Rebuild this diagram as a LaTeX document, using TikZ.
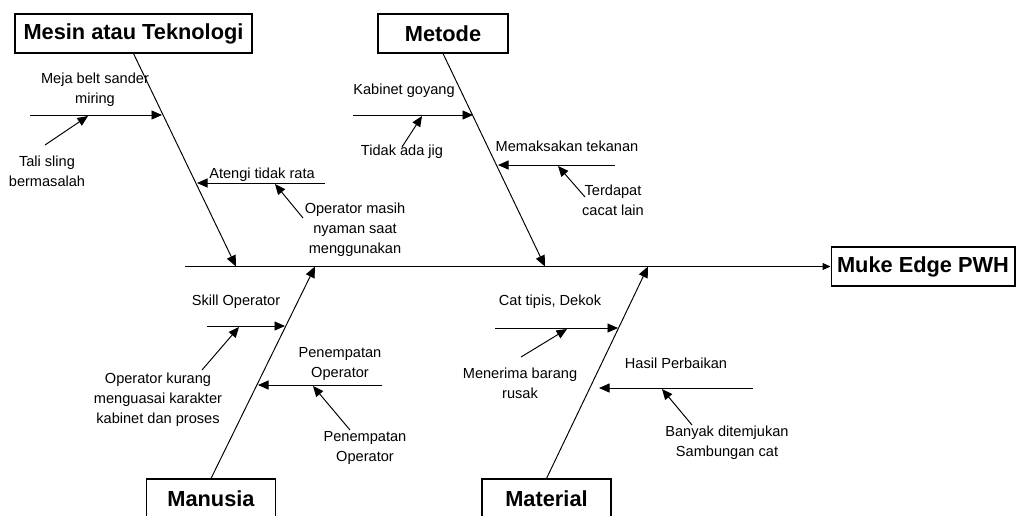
\documentclass[tikz,border=0pt]{standalone}
\usepackage{fontspec}
\setmainfont{Liberation Sans}
\usetikzlibrary{arrows.meta}

\tikzset{
    cat/.style={draw, line width=0.6pt, font=\fontsize{12.4}{14}\selectfont\bfseries,
        minimum height=0.78cm, inner sep=0pt},
    lbl/.style={font=\fontsize{8.3}{11.4}\selectfont, align=center, inner sep=0pt},
    spine/.style={line width=0.6pt, -{Triangle[length=1.6mm,width=1.4mm]}},
    bone/.style={line width=0.55pt, -{Triangle[length=2.2mm,width=1.9mm]}},
    twig/.style={line width=0.55pt, -{Triangle[length=2.1mm,width=1.8mm]}},
}

\begin{document}
\begin{tikzpicture}[x=0.02cm, y=-0.02cm]
    \useasboundingbox (0,0) rectangle (1016,515);
    % categories and effect
    \node[cat, minimum width=4.74cm] (mesin) at (133.5,33.5) {Mesin atau Teknologi};
    \node[cat, minimum width=2.6cm] (metode) at (443,33.5) {Metode};
    \node[cat, minimum width=2.58cm] (manusia) at (211,498.5) {Manusia};
    \node[cat, minimum width=2.58cm] (material) at (546.5,498.5) {Material};
    \node[cat, minimum width=3.68cm] (effect) at (923,266.5) {Muke Edge PWH};
    % spine and main bones
    \coordinate (tail) at (185,266.5);
    \draw[spine] (tail) -- (effect.west);
    \foreach \cat/\side/\x in {mesin/south/236,metode/south/545,manusia/north/315,material/north/648}{
        \coordinate (\cat J) at (\x,266.5);
        \draw[bone] (\cat.\side) -- (\cat J);
    }
    % causes (name/start/tip/height)
    \foreach \n/\xa/\xb/\y in {m1/30/162/115,m2/325/197/183,d1/353/473/115,d2/615/498/165,
        u1/207/285/326,u2/382/258/385,t1/495/618/328,t2/753/599/388}{
        \coordinate (\n a) at (\xa,\y);
        \coordinate (\n b) at (\xb,\y);
        \draw[twig] (\n a) -- (\n b);
    }
    % sub-causes (name/start/tip)
    \foreach \n/\p/\q in {m1x/{45,145}/{88,116},m2x/{303,218}/{275,184},d1x/{402,147}/{422,116},
        d2x/{585,197}/{558,166},u1x/{202,370}/{239,327},u2x/{350,430}/{313,386},
        t1x/{521,357}/{567,329},t2x/{692,425}/{662,389}}{
        \coordinate (\n a) at (\p);
        \coordinate (\n b) at (\q);
        \draw[twig] (\n a) -- (\n b);
    }
    % labels
    \node[lbl] (meja) at (95,90) {Meja belt sander\\miring};
    \node[lbl] (tali) at (47,171) {Tali sling\\bermasalah};
    \node[lbl] (atengi) at (262,175) {Atengi tidak rata};
    \node[lbl] (nyaman) at (355,230) {Operator masih\\nyaman saat\\menggunakan};
    \node[lbl] (kabinet) at (404,91) {Kabinet goyang};
    \node[lbl] (jig) at (402,152) {Tidak ada jig};
    \node[lbl] (tekanan) at (567,146) {Memaksakan tekanan};
    \node[lbl] (cacat) at (613,200) {Terdapat\\cacat lain};
    \node[lbl] (skill) at (236,302) {Skill Operator};
    \node[lbl] (kurang) at (158,400) {Operator kurang\\menguasai karakter\\kabinet dan proses};
    \node[lbl] (tempatA) at (340,364) {Penempatan\\Operator};
    \node[lbl] (tempatB) at (365,448) {Penempatan\\Operator};
    \node[lbl] (tipis) at (550,302) {Cat tipis, Dekok};
    \node[lbl] (rusak) at (520,383) {Menerima barang\\rusak};
    \node[lbl] (hasil) at (676,363) {Hasil Perbaikan};
    \node[lbl] (sambung) at (727,443) {Banyak ditemjukan\\Sambungan cat};
\end{tikzpicture}
\end{document}
